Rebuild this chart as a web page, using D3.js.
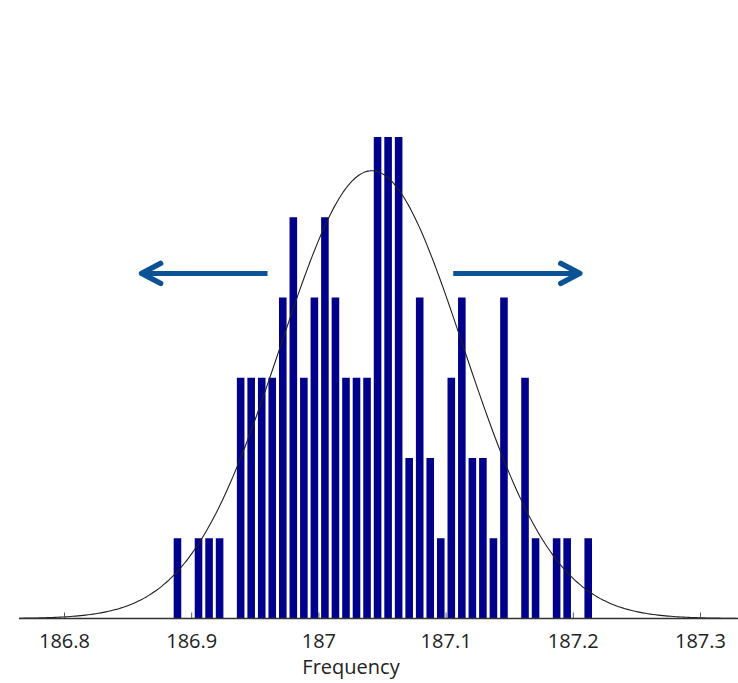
<!DOCTYPE html>
<html lang="en">

<head>
  <meta charset="UTF-8">
  <title>Frequency histogram</title>
  <style>
    * {
      padding: 0;
      margin: 0;
    }

    body {
      background: #fff;
    }

    svg text {
      font-family: "Open Sans", sans-serif;
      fill: #222;
    }
  </style>
</head>

<body>
  <svg id="svg"></svg>
  <script src="https://cdnjs.cloudflare.com/ajax/libs/d3/7.8.5/d3.min.js"></script>
  <script>
    // histogram bins: first bin centre, bin width, counts per bin
    const binStart = 186.8892
    const binWidth = 0.00828
    const counts = [1, 0, 1, 1, 1, 0, 3, 3, 3, 3,
      4, 5, 3, 4, 5, 4, 3, 3, 3, 6,
      6, 6, 2, 4, 2, 1, 3, 4, 2, 2,
      1, 4, 0, 3, 1, 0, 1, 1, 0, 1]

    // fitted bell curve
    const curveMean = 187.042
    const curveSigma = 0.072
    const curvePeak = 5.58

    const xTicks = [186.8, 186.9, 187, 187.1, 187.2, 187.3]
    const xLabel = 'Frequency'

    // spread arrows (from, to) in data units
    const arrows = [
      { from: 186.96, to: 186.861, level: 4.3 },
      { from: 187.106, to: 187.2055, level: 4.3 }
    ]

    const dimension = {
      width: 738,
      height: 683
    }

    const svg = d3.select('#svg')
      .attr('width', dimension.width)
      .attr('height', dimension.height)

    const x = d3.scaleLinear()
      .domain([186.8, 187.3])
      .range([64, 700])

    const y = d3.scaleLinear()
      .domain([0, 6])
      .range([618.5, 137])

    const bins = counts.map((c, i) => ({ x: binStart + i * binWidth, count: c }))
    const barW = (x(binWidth) - x(0)) * 0.72

    svg.append('g')
      .attr('id', 'bars')
      .selectAll('rect')
      .data(bins.filter(d => d.count > 0))
      .join('rect')
      .attr('x', d => x(d.x) - barW / 2)
      .attr('y', d => y(d.count))
      .attr('width', barW)
      .attr('height', d => y(0) - y(d.count))
      .attr('fill', '#00008b')

    // normal curve
    const curveX = d3.range(186.765, 187.33, 0.002)
    const line = d3.line()
      .x(d => x(d))
      .y(d => y(curvePeak * Math.exp(-((d - curveMean) ** 2) / (2 * curveSigma ** 2))))
      .curve(d3.curveBasis)

    svg.append('path')
      .datum(curveX)
      .attr('d', line)
      .attr('fill', 'none')
      .attr('stroke', '#222')
      .attr('stroke-width', 1.1)

    // x axis: ticks point up into the plot
    const xAxis = d3.axisBottom(x)
      .tickValues(xTicks)
      .tickSize(-6)
      .tickPadding(0)
      .tickFormat(d3.format('~g'))

    const axis = svg.append('g')
      .attr('transform', `translate(0, ${y(0)})`)
      .call(xAxis)

    axis.select('.domain').remove()
    axis.append('line')
      .attr('x1', 19)
      .attr('x2', dimension.width)
      .attr('stroke', '#333')
      .attr('stroke-width', 1.3)
    axis.selectAll('.tick line').attr('stroke', '#555')
    axis.selectAll('.tick text')
      .attr('y', 29)
      .attr('dy', 0)
      .style('font-size', '20px')
      .style('font-family', '"Open Sans", sans-serif')
      .attr('fill', '#222')

    svg.append('text')
      .attr('x', 351)
      .attr('y', 674)
      .attr('text-anchor', 'middle')
      .style('font-size', '20px')
      .text(xLabel)

    // arrows
    const arrowColor = '#0b5394'
    const arrowG = svg.append('g').attr('id', 'arrows')
    arrows.forEach(a => {
      const x0 = x(a.from), x1 = x(a.to), yy = y(a.level)
      const dir = Math.sign(x1 - x0)
      arrowG.append('line')
        .attr('x1', x0).attr('x2', x1 - dir * 2)
        .attr('y1', yy).attr('y2', yy)
        .attr('stroke', arrowColor)
        .attr('stroke-width', 5)
      arrowG.append('path')
        .attr('d', `M${x1 - dir * 19},${yy - 10} L${x1},${yy} L${x1 - dir * 19},${yy + 10}`)
        .attr('fill', 'none')
        .attr('stroke', arrowColor)
        .attr('stroke-width', 5.5)
        .attr('stroke-linecap', 'round')
        .attr('stroke-linejoin', 'round')
    })
  </script>
</body>

</html>
